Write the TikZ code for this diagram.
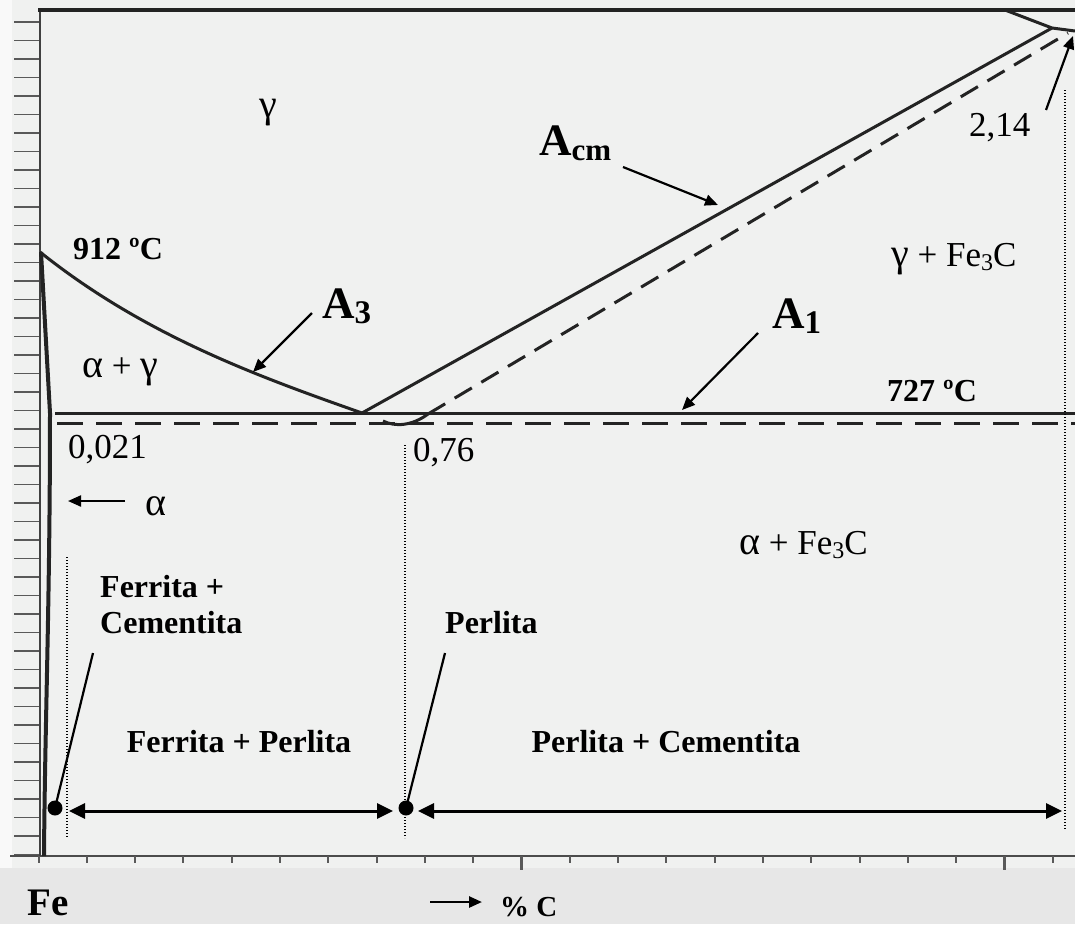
\documentclass[tikz,border=0pt]{standalone}
\usepackage{fontspec}
\setmainfont{Liberation Serif}
\usetikzlibrary{arrows.meta}
\definecolor{plotbg}{RGB}{240,241,240}
\definecolor{bandbg}{RGB}{231,231,231}
\definecolor{ink}{RGB}{35,35,35}
\newcommand\gk[1]{{\fontsize{40}{40}\selectfont #1}}
\begin{document}
\begin{tikzpicture}[x=1pt,y=-1pt,
  txt/.style={inner sep=0pt, font=\fontsize{35}{40}\selectfont},
  btxt/.style={inner sep=0pt, font=\bfseries\fontsize{32}{36}\selectfont},
  atxt/.style={inner sep=0pt, font=\bfseries\fontsize{45}{50}\selectfont},
  phaseline/.style={line width=3pt, draw=ink},
  dashline/.style={line width=3pt, draw=ink, dash pattern=on 26pt off 13pt},
  ptr/.style={line width=2.2pt, -{Triangle[length=13pt,width=11pt]}},
  dimline/.style={line width=3pt, {Triangle[length=16pt,width=15pt]}-{Triangle[length=16pt,width=15pt]}},
  guide/.style={line width=1.4pt, dash pattern=on 1.4pt off 1.6pt},
  leadline/.style={line width=2.2pt},
  bullet/.style={circle, fill, inner sep=0pt, minimum size=15pt},
  tick/.style={line width=1.6pt, draw=black!65}
]
\useasboundingbox (0,0) rectangle (1075,924);
\fill[plotbg] (0,0) rectangle (1075,868);
\fill[white!60!plotbg] (0,0) rectangle (12,868);
\fill[bandbg] (0,868) rectangle (1075,924);

% axes and ticks
\foreach \k in {0,...,45} \draw[tick] (14,22+18.5*\k) -- (40,22+18.5*\k);
\draw[line width=1.8pt, draw=black!70] (10,856) -- (1075,856);
\foreach \k in {0,...,21} \draw[tick, line width=2pt] (38.5+48.3*\k,856) -- (38.5+48.3*\k,863);
\draw[tick, line width=2.4pt] (521.5,856) -- (521.5,870);
\draw[tick, line width=2.4pt] (1004.5,856) -- (1004.5,870);
\draw[line width=2.6pt, draw=black!75] (40,10) -- (40,856);
\draw[phaseline, line width=3.2pt] (38,10) -- (1075,10);

% phase boundaries
\coordinate (g912) at (40,252);
\coordinate (p021) at (50,413);
\coordinate (eut) at (362,413);
\coordinate (c214) at (1052,28);
\draw[phaseline, line width=4pt] (41,252) -- (p021) .. controls (50,600) and (45,720) .. (44,856);
\draw[phaseline] (g912) .. controls (145,336) and (260,377) .. (eut);
\draw[phaseline] (55,413) -- (1075,413);
\draw[dashline] (57,423) -- (1075,423);
\draw[phaseline] (eut) -- (c214);
\draw[phaseline] (1005,10) -- (c214) -- (1075,31);
\draw[phaseline] (383,421) .. controls (395,427) and (412,426) .. (428,414);
\draw[dashline, dash pattern=on 20pt off 11pt] (428,414) -- (1068,33);

% dotted guides
\draw[guide] (67,557) -- (67,838);
\draw[guide] (405,445) -- (405,838);
\draw[guide] (1065,90) -- (1065,830);

% labels
\node[txt, anchor=base west] (gam) at (259,117) {\gk{γ}};
\node[btxt, anchor=base west] (t912) at (73,259) {912 ºC};
\node[txt, anchor=base west] (ag) at (82,377) {\gk{α} + \gk{γ}};
\node[txt, anchor=base west] (x021) at (68,458) {0,021};
\node[txt, anchor=base west] (alf) at (145,515) {\gk{α}};
\node[atxt, anchor=base west] (A3) at (322,318) {A\raisebox{-5pt}{\fontsize{33}{33}\selectfont 3}};
\node[atxt, anchor=base west] (Acm) at (539,155) {A\raisebox{-5pt}{\fontsize{31}{31}\selectfont cm}};
\node[atxt, anchor=base west] (A1) at (772,328) {A\raisebox{-5pt}{\fontsize{33}{33}\selectfont 1}};
\node[txt, anchor=base west] (gfe) at (891,266) {\gk{γ} + Fe\raisebox{-4pt}{\fontsize{24}{24}\selectfont 3}C};
\node[btxt, anchor=base west] (t727) at (887,401) {727 ºC};
\node[txt, anchor=base west] (x076) at (413,461) {0,76};
\node[txt, anchor=base west] (x214) at (969,136) {2,14};
\node[txt, anchor=base west] (afe) at (739,554) {\gk{α} + Fe\raisebox{-4pt}{\fontsize{24}{24}\selectfont 3}C};
\node[btxt, anchor=base west] (fc1) at (100,597) {Ferrita +};
\node[btxt, anchor=base west] (fc2) at (100,633) {Cementita};
\node[btxt, anchor=base west] (perl) at (445,633) {Perlita};
\node[btxt, anchor=base] (fp) at (239,752) {Ferrita + Perlita};
\node[btxt, anchor=base] (pc) at (666,752) {Perlita + Cementita};
\node[inner sep=0pt, font=\bfseries\fontsize{39}{44}\selectfont, anchor=base west] (fe) at (27,915) {Fe};
\node[inner sep=0pt, font=\bfseries\fontsize{29}{34}\selectfont, anchor=base west] (pcC) at (500,916) {\% C};

% pointer arrows
\coordinate (a3s) at (312,313); \coordinate (a3e) at (253,372);
\coordinate (acs) at (623,167); \coordinate (ace) at (718,205);
\coordinate (a1s) at (758,333); \coordinate (a1e) at (682,410);
\coordinate (x2s) at (1046,110); \coordinate (x2e) at (1073,36);
\coordinate (als) at (125,501); \coordinate (ale) at (68,501);
\coordinate (cs) at (430,902); \coordinate (ce) at (482,902);
\draw[ptr] (a3s) -- (a3e);
\draw[ptr] (acs) -- (ace);
\draw[ptr] (a1s) -- (a1e);
\draw[ptr] (x2s) -- (x2e);
\draw[ptr] (als) -- (ale);
\draw[ptr, line width=2.6pt] (cs) -- (ce);

% bullets, leaders, spans
\node[bullet] (d1) at (55,808) {};
\node[bullet] (d2) at (406,808) {};
\coordinate (l1) at (93,653);
\coordinate (l2) at (445,653);
\draw[leadline] (l1) -- (d1.center);
\draw[leadline] (l2) -- (d2.center);
\coordinate (s1a) at (69,811); \coordinate (s1b) at (393,811);
\coordinate (s2a) at (418,811); \coordinate (s2b) at (1062,811);
\draw[dimline] (s1a) -- (s1b);
\draw[dimline] (s2a) -- (s2b);
\end{tikzpicture}
\end{document}
